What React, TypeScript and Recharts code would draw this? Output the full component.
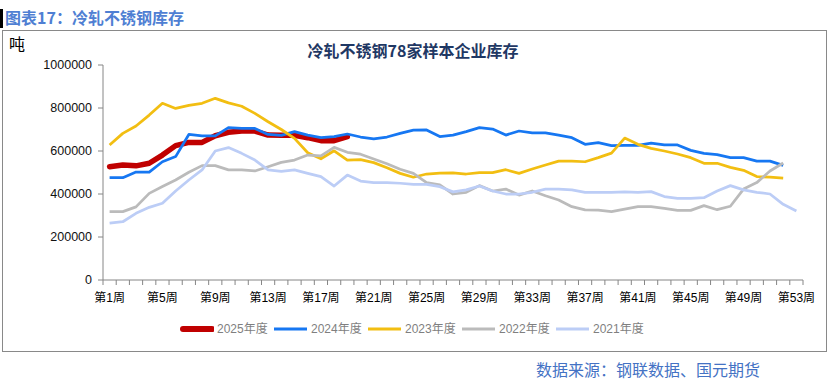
import { LineChart, Line, XAxis, YAxis, Legend } from "recharts";

// 周次
const weeks = [
  1, 2, 3, 4, 5, 6, 7, 8, 9, 10, 11, 12, 13, 14, 15, 16, 17, 18, 19, 20, 21, 22, 23, 24, 25, 26,
  27, 28, 29, 30, 31, 32, 33, 34, 35, 36, 37, 38, 39, 40, 41, 42, 43, 44, 45, 46, 47, 48, 49, 50,
  51, 52, 53,
];

// 库存（吨），按周
const inv2025 = [
  527000, 535000, 531000, 543000, 581000, 625000, 640000, 640000, 671000, 687000, 693000, 693000,
  674000, 673000, 673000, 662000, 648000, 648000, 667000,
];
const inv2024 = [
  476000, 476000, 502000, 502000, 550000, 574000, 677000, 670000, 670000, 709000, 705000, 705000,
  677000, 673000, 690000, 674000, 662000, 667000, 679000, 665000, 656000, 665000, 682000, 697000,
  698000, 667000, 674000, 690000, 709000, 702000, 674000, 693000, 684000, 684000, 674000, 662000,
  631000, 639000, 625000, 626000, 626000, 637000, 628000, 628000, 603000, 589000, 583000, 569000,
  569000, 553000, 553000, 533000,
];
const inv2023 = [
  628000, 682000, 716000, 767000, 822000, 798000, 812000, 822000, 845000, 824000, 808000, 775000,
  736000, 700000, 659000, 592000, 564000, 601000, 558000, 560000, 546000, 522000, 496000, 478000,
  493000, 497000, 498000, 493000, 499000, 499000, 513000, 496000, 516000, 535000, 553000, 553000,
  550000, 569000, 590000, 660000, 631000, 612000, 600000, 586000, 569000, 543000, 543000, 524000,
  510000, 481000, 479000, 474000,
];
const inv2022 = [
  318000, 318000, 340000, 403000, 435000, 465000, 501000, 532000, 532000, 512000, 512000, 507000,
  527000, 547000, 558000, 581000, 577000, 617000, 594000, 585000, 563000, 541000, 515000, 496000,
  453000, 442000, 400000, 408000, 439000, 414000, 423000, 395000, 414000, 392000, 372000, 341000,
  326000, 325000, 318000, 330000, 341000, 341000, 333000, 324000, 324000, 346000, 327000, 343000,
  423000, 453000, 507000, 544000,
];
const inv2021 = [
  264000, 271000, 310000, 338000, 357000, 414000, 465000, 512000, 600000, 616000, 589000, 558000,
  512000, 505000, 512000, 496000, 481000, 437000, 488000, 460000, 453000, 453000, 450000, 445000,
  445000, 434000, 410000, 419000, 437000, 414000, 400000, 400000, 408000, 423000, 423000, 419000,
  408000, 408000, 408000, 410000, 408000, 411000, 388000, 380000, 380000, 383000, 414000, 439000,
  419000, 408000, 400000, 352000, 321000,
];

const yTicks = [0, 200000, 400000, 600000, 800000, 1000000];

const series = [
  { key: "y2025", name: "2025年度", color: "#C00000", width: 5.5, values: inv2025 },
  { key: "y2024", name: "2024年度", color: "#1677F2", width: 2.75, values: inv2024 },
  { key: "y2023", name: "2023年度", color: "#F2BE12", width: 2.75, values: inv2023 },
  { key: "y2022", name: "2022年度", color: "#BBBBBB", width: 2.75, values: inv2022 },
  { key: "y2021", name: "2021年度", color: "#BCCDF6", width: 2.75, values: inv2021 },
];

const data = weeks.map((w, i) => {
  const row: Record<string, number | null> = { week: w };
  series.forEach((s) => {
    row[s.key] = i < s.values.length ? s.values[i] : null;
  });
  return row;
});

// 刻度线在两周之间，标签在周中心
const xTicks: number[] = [];
for (let t = 0.5; t <= weeks.length + 0.5; t += 0.5) xTicks.push(t);

const AXIS = "#868686";

const WeekTick = (props: any) => {
  const { x, y, payload } = props;
  const v = payload.value;
  if (v % 1 !== 0) {
    return <line x1={x} y1={y} x2={x} y2={y + 5} stroke={AXIS} strokeWidth={1} />;
  }
  if ((v - 1) % 4 !== 0) return <g />;
  return (
    <text x={x} y={y + 22} textAnchor="middle" fontSize={12} fill="#000">
      第{v}周
    </text>
  );
};

const seriesIndex = (key: string) => series.findIndex((s) => s.key === key);

const renderLegend = (props: any) => {
  const payload = [...(props.payload || [])].sort(
    (a: any, b: any) => seriesIndex(a.dataKey) - seriesIndex(b.dataKey)
  );
  return (
    <div style={{ display: "flex" }}>
      {payload.map((entry: any) => {
        const s = series[seriesIndex(entry.dataKey)];
        const thick = s && s.width > 4;
        return (
          <div key={entry.dataKey} style={{ display: "flex", alignItems: "center", width: 94 }}>
            <svg width={34} height={10}>
              <line
                x1={thick ? 3 : 0}
                x2={thick ? 32 : 33}
                y1={5}
                y2={5}
                stroke={entry.color}
                strokeWidth={thick ? 6 : 3}
                strokeLinecap={thick ? "round" : "butt"}
              />
            </svg>
            <span style={{ marginLeft: 3, fontSize: 12, color: "#7F7F7F", lineHeight: "16px" }}>
              {entry.value}
            </span>
          </div>
        );
      })}
    </div>
  );
};

export default function App() {
  return (
    <div
      style={{
        position: "absolute",
        left: 0,
        top: 0,
        width: 835,
        height: 388,
        background: "#fff",
        fontFamily: "'Liberation Sans', 'Noto Sans CJK SC', sans-serif",
      }}
    >
      <div style={{ position: "absolute", left: 0, top: 9, width: 3, height: 19, background: "#000" }} />
      <div
        style={{
          position: "absolute",
          left: 5,
          top: 7,
          fontSize: 16,
          lineHeight: "20px",
          fontWeight: 600,
          color: "#4F7FD3",
          fontFamily: "'Noto Sans CJK SC', sans-serif",
        }}
      >
        图表17：冷轧不锈钢库存
      </div>
      <div
        style={{
          position: "absolute",
          left: 2,
          top: 30,
          width: 825,
          height: 322,
          boxSizing: "border-box",
          border: "1px solid #898989",
        }}
      />
      <div
        style={{
          position: "absolute",
          left: 9,
          top: 34,
          fontSize: 16,
          lineHeight: "18px",
          color: "#000",
          fontFamily: "'Noto Sans CJK SC', sans-serif",
        }}
      >
        吨
      </div>
      <div
        style={{
          position: "absolute",
          left: 0,
          top: 41,
          width: 826,
          textAlign: "center",
          fontSize: 16,
          lineHeight: "18px",
          fontWeight: 700,
          color: "#1F3864",
          fontFamily: "'Noto Sans CJK SC', sans-serif",
        }}
      >
        冷轧不锈钢78家样本企业库存
      </div>
      <div style={{ position: "absolute", left: 0, top: 0 }}>
        <LineChart
          width={835}
          height={388}
          data={data}
          margin={{ top: 65, right: 32, bottom: 78, left: 43 }}
        >
          <XAxis
            dataKey="week"
            type="number"
            domain={[0.5, weeks.length + 0.5]}
            ticks={xTicks}
            interval={0}
            height={30}
            stroke={AXIS}
            tickLine={false}
            tickSize={0}
            tickMargin={0}
            tick={<WeekTick />}
          />
          <YAxis
            type="number"
            domain={[0, 1000000]}
            ticks={yTicks}
            interval={0}
            width={60}
            stroke={AXIS}
            tickSize={5}
            tickMargin={6}
            tick={{ fill: "#111", fontSize: 12.5 }}
          />
          <Legend
            layout="horizontal"
            verticalAlign="middle"
            align="center"
            content={renderLegend}
            wrapperStyle={{ top: 321, left: 180, width: 480, height: 16 }}
          />
          {series.map((s) => (
            <Line
              key={s.key}
              dataKey={s.key}
              name={s.name}
              type="linear"
              stroke={s.color}
              strokeWidth={s.width}
              strokeLinecap={s.width > 4 ? "round" : "butt"}
              strokeLinejoin="round"
              dot={false}
              activeDot={false}
              isAnimationActive={false}
            />
          ))}
        </LineChart>
      </div>
      <div
        style={{
          position: "absolute",
          left: 536,
          top: 359,
          fontSize: 16,
          lineHeight: "20px",
          color: "#4472C4",
          fontFamily: "'Noto Sans CJK SC', sans-serif",
        }}
      >
        数据来源：钢联数据、国元期货
      </div>
    </div>
  );
}
